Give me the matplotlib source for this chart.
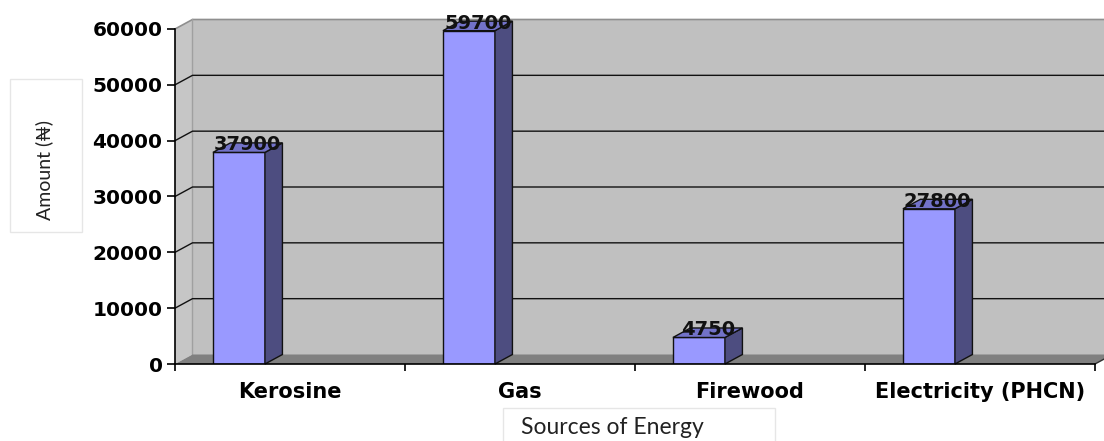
import matplotlib
matplotlib.use("Agg")
import matplotlib.pyplot as plt
from matplotlib.patches import Polygon, Rectangle
import numpy as np

categories = ["Kerosine", "Gas", "Firewood", "Electricity (PHCN)"]
amounts = [37900, 59700, 4750, 27800]
y_ticks = [0, 10000, 20000, 30000, 40000, 50000, 60000]
y_label = "Amount (\u20a6)"
x_label = "Sources of Energy"

W, H, DPI = 1104, 441, 100
fig = plt.figure(figsize=(W / DPI, H / DPI), dpi=DPI)
fig.patch.set_facecolor("white")

# front plane of the 3-D chart
ax_left, ax_right, ax_top, ax_bottom = 175, 1095, 29, 364
ax = fig.add_axes([ax_left / W, (H - ax_bottom) / H,
                   (ax_right - ax_left) / W, (ax_bottom - ax_top) / H])
ax.set_facecolor("none")
n = len(categories)
ax.set_xlim(-0.5, n - 0.5)
ax.set_ylim(0, 60000)

# depth offset (pixels) converted to data units
DX, DY = 17.5, 9.5
inv = ax.transData.inverted()
p0 = ax.transData.transform((0, 0))
ddx, ddy = inv.transform(p0 + np.array([DX, DY])) - inv.transform(p0)

x0, x1 = -0.5, n - 0.5
ymax = y_ticks[-1]
wall = "#c0c0c0"
# back wall
ax.add_patch(Polygon([(x0 + ddx, ddy), (x1 + ddx + 0.2, ddy),
                      (x1 + ddx + 0.2, ymax + ddy), (x0 + ddx, ymax + ddy)],
                     closed=True, fc=wall, ec="none", zorder=0, clip_on=False))
# left side wall
ax.add_patch(Polygon([(x0, 0), (x0, ymax), (x0 + ddx, ymax + ddy), (x0 + ddx, ddy)],
                     closed=True, fc="#c6c6c6", ec="none", zorder=0, clip_on=False))
# wall edges
ax.plot([x0, x0 + ddx, x1 + ddx + 0.2], [ymax, ymax + ddy, ymax + ddy],
        color="#8f8f8f", lw=1.2, zorder=1, clip_on=False)
ax.plot([x0 + ddx, x0 + ddx], [ddy, ymax + ddy], color="#a0a0a0", lw=1,
        zorder=1, clip_on=False)
# floor
ax.add_patch(Polygon([(x0, 0), (x1, 0), (x1 + ddx, ddy), (x0 + ddx, ddy)],
                     closed=True, fc="#808080", ec="none", zorder=1, clip_on=False))
ax.plot([x1, x1 + ddx], [0, ddy], color="#303030", lw=1, zorder=1, clip_on=False)

# gridlines on walls
for t in y_ticks[1:-1]:
    ax.plot([x0, x0 + ddx, x1 + ddx + 0.2], [t, t + ddy, t + ddy],
            color="#111111", lw=1, zorder=1, clip_on=False)

# bars (front face, side face, top face)
bar_w = 0.226
bar_off = -0.222
xc = np.arange(n) + bar_off
ax.bar(xc, amounts, width=bar_w, color="#9999ff", edgecolor="#111111",
       lw=1, zorder=3)
for xi, v in zip(xc, amounts):
    xl, xr = xi - bar_w / 2, xi + bar_w / 2
    ax.add_patch(Polygon([(xr, 0), (xr, v), (xr + ddx, v + ddy), (xr + ddx, ddy)],
                         closed=True, fc="#4d4d80", ec="#111111", lw=1,
                         zorder=3, clip_on=False))
    ax.add_patch(Polygon([(xl, v), (xr, v), (xr + ddx, v + ddy), (xl + ddx, v + ddy)],
                         closed=True, fc="#7272c8", ec="#111111", lw=1,
                         zorder=3, clip_on=False))
    ax.annotate(f"{v}", xy=(xi + ddx / 2, v), xytext=(0, 1.5),
                textcoords="offset points", ha="center", va="baseline",
                fontsize=14, fontweight="bold", color="#111111", zorder=5,
                annotation_clip=False)

# axes
for s in ["top", "right"]:
    ax.spines[s].set_visible(False)
for s in ["left", "bottom"]:
    ax.spines[s].set_color("black")
    ax.spines[s].set_linewidth(1.2)
    ax.spines[s].set_zorder(4)
ax.set_yticks(y_ticks)
ax.set_yticklabels([str(t) for t in y_ticks], fontsize=14.5, fontweight="bold")
ax.tick_params(axis="y", direction="out", length=6, width=1.2, pad=3)
ax.set_xticks(np.arange(n + 1) - 0.5)
ax.set_xticklabels([])
ax.set_xticks(np.arange(n), minor=True)
ax.set_xticklabels(categories, minor=True, fontsize=15, fontweight="bold")
ax.tick_params(axis="x", which="major", direction="out", length=5, width=1.2)
ax.tick_params(axis="x", which="minor", length=0, pad=13)

# axis title boxes
fig.patches.append(Rectangle((10 / W, (H - 232) / H), 72 / W, 153 / H,
                             transform=fig.transFigure, fc="white",
                             ec="#e6e6e6", lw=1))
fig.text(44 / W, (H - 170) / H, y_label, rotation=90, ha="center", va="center",
         fontsize=14, family=["Lato", "DejaVu Sans"], color="#222222")
fig.patches.append(Rectangle((503 / W, -5 / H), 272 / W, 38 / H,
                             transform=fig.transFigure, fc="white",
                             ec="#e6e6e6", lw=1))
fig.text(521 / W, (H - 427) / H, x_label, ha="left", va="center",
         fontsize=16.5, family=["Lato", "DejaVu Sans"], color="#222222")

fig.savefig("out.png", dpi=DPI, facecolor="white")
